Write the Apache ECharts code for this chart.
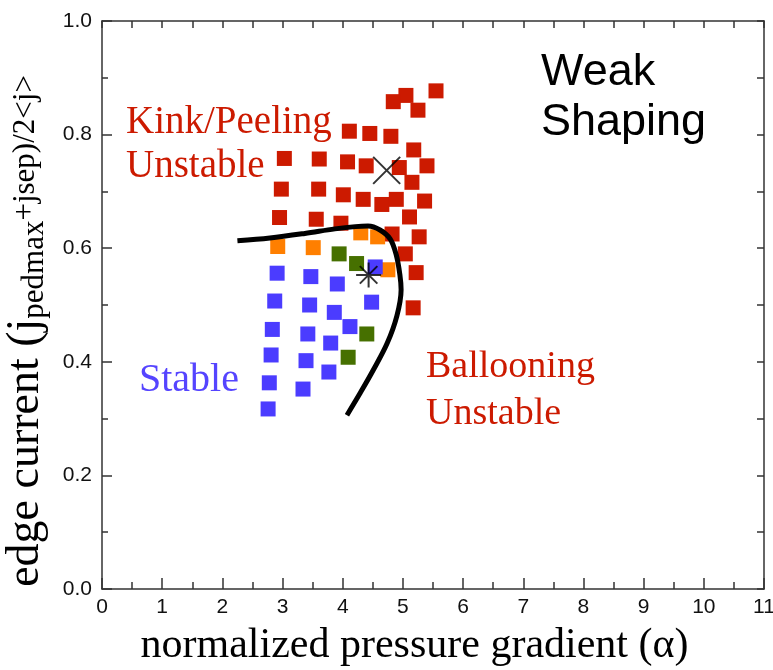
<!DOCTYPE html>
<html>
<head>
<meta charset="utf-8">
<title>Weak Shaping - edge stability</title>
<script src="https://cdn.jsdelivr.net/npm/echarts@6/dist/echarts.min.js"></script>
<style>
    html, body { margin: 0; padding: 0; background: #fff; }
    #chart { width: 773px; height: 670px; }
</style>
</head>
<body>
<div id="chart"></div>
<script>
// [alpha, edge current]
var kinkUnstable = [
    [5.55, 0.877], [5.05, 0.869], [4.84, 0.858], [5.25, 0.843],
    [4.11, 0.806], [4.45, 0.802], [4.80, 0.797],
    [3.03, 0.758], [3.61, 0.757], [4.08, 0.752], [4.39, 0.745], [4.94, 0.742], [5.18, 0.773], [5.40, 0.745],
    [5.15, 0.716],
    [2.98, 0.704], [3.60, 0.704], [4.01, 0.694], [4.34, 0.686], [4.65, 0.677], [4.89, 0.686], [5.36, 0.683],
    [2.95, 0.654], [3.56, 0.651], [3.97, 0.644], [4.82, 0.625], [5.11, 0.655], [5.27, 0.620],
    [5.04, 0.590], [5.22, 0.557], [5.17, 0.495]
];
var marginal = [
    [2.92, 0.603], [3.51, 0.601], [4.30, 0.627], [4.58, 0.620], [4.75, 0.562]
];
var balloonLimited = [
    [3.94, 0.590], [4.23, 0.573], [4.40, 0.449], [4.09, 0.408]
];
var stable = [
    [2.91, 0.556], [3.47, 0.550], [3.91, 0.537], [4.54, 0.567],
    [2.87, 0.507], [3.45, 0.500], [3.86, 0.487], [4.48, 0.505], [4.12, 0.462],
    [2.83, 0.457], [3.42, 0.449], [3.80, 0.433],
    [2.81, 0.412], [3.39, 0.402], [3.77, 0.382],
    [2.78, 0.363], [3.34, 0.352],
    [2.76, 0.317]
];
var boundary = [
    [2.25, 0.613], [2.79, 0.618], [3.37, 0.626], [3.87, 0.634], [4.21, 0.638], [4.42, 0.639],
    [4.62, 0.632], [4.79, 0.616], [4.89, 0.588], [4.95, 0.553], [4.97, 0.527], [4.90, 0.481],
    [4.74, 0.433], [4.51, 0.386], [4.29, 0.345], [4.07, 0.306]
];
var crossPoint = [[4.73, 0.737]];
var starPoint = [[4.43, 0.553]];

var xTicks = [0, 11, 1];       // min, max, interval
var yTicks = [0, 1.0, 0.2];

var serif = '"Liberation Serif", "DejaVu Serif", serif';
var sans = '"Liberation Sans", Arial, sans-serif';

var chart = echarts.init(document.getElementById('chart'));

function squares(data, color) {
    return {
        type: 'scatter',
        data: data,
        symbol: 'rect',
        symbolSize: 15,
        itemStyle: { color: color, opacity: 1 },
        silent: true
    };
}

var lineCol = '#333';

var option = {
    animation: false,
    grid: { left: 102, right: 9, top: 21, bottom: 81, containLabel: false, outerBoundsMode: 'none' },
    xAxis: [{
        type: 'value',
        min: xTicks[0], max: xTicks[1], interval: xTicks[2],
        position: 'bottom',
        name: 'normalized pressure gradient (\u03b1)',
        nameLocation: 'middle',
        nameGap: 36,
        nameTextStyle: { fontFamily: serif, fontSize: 42, color: '#000', padding: [0, 37, 0, 0] },
        axisLine: { onZero: false, lineStyle: { color: lineCol, width: 1.5 } },
        axisTick: { inside: true, length: 11, lineStyle: { color: lineCol, width: 1.5 } },
        minorTick: { show: true, splitNumber: 2, length: 7, lineStyle: { color: lineCol, width: 1.5 } },
        axisLabel: { fontFamily: sans, fontSize: 21, color: '#111', margin: 8 },
        splitLine: { show: false }
    }, {
        type: 'value',
        min: xTicks[0], max: xTicks[1], interval: 0.5,
        position: 'top',
        axisLine: { show: true, onZero: false, lineStyle: { color: lineCol, width: 1.5 } },
        axisTick: { show: true, inside: true, length: 7, lineStyle: { color: lineCol, width: 1.5 } },
        axisLabel: { show: false },
        splitLine: { show: false }
    }],
    yAxis: [{
        type: 'value',
        min: yTicks[0], max: yTicks[1], interval: yTicks[2],
        position: 'left',
        name: '{a|edge current (j}{b|pedmax}{c|+jsep)/2<j>}',
        nameLocation: 'middle',
        nameGap: 52,
        nameTextStyle: {
            fontFamily: serif, color: '#000',
            padding: [0, 52, 0, 0],
            rich: {
                a: { fontFamily: serif, fontSize: 46, color: '#000', lineHeight: 48 },
                b: { fontFamily: serif, fontSize: 31, color: '#000', verticalAlign: 'bottom', lineHeight: 48, padding: [12, 0, 0, 0] },
                c: { fontFamily: serif, fontSize: 31, color: '#000', lineHeight: 48 }
            }
        },
        axisLine: { onZero: false, lineStyle: { color: lineCol, width: 1.5 } },
        axisTick: { inside: true, length: 10, lineStyle: { color: lineCol, width: 1.5 } },
        minorTick: { show: true, splitNumber: 2, length: 6, lineStyle: { color: lineCol, width: 1.5 } },
        axisLabel: {
            fontFamily: sans, fontSize: 21, color: '#111', margin: 10,
            formatter: function (v) { return v.toFixed(1); }
        },
        splitLine: { show: false }
    }, {
        type: 'value',
        min: yTicks[0], max: yTicks[1], interval: 0.1,
        position: 'right',
        axisLine: { show: true, onZero: false, lineStyle: { color: lineCol, width: 1.5 } },
        axisTick: { show: true, inside: true, length: 7, lineStyle: { color: lineCol, width: 1.5 } },
        axisLabel: { show: false },
        splitLine: { show: false }
    }],
    series: [
        squares(kinkUnstable, '#cc1a00'),
        squares(marginal, '#ff7f00'),
        squares(balloonLimited, '#467000'),
        squares(stable, '#4b3cff'),
        {
            type: 'line',
            data: boundary,
            smooth: 0.35,
            showSymbol: false,
            lineStyle: { color: '#000', width: 5 },
            silent: true
        },
        {
            type: 'scatter',
            data: crossPoint,
            symbol: 'path://M0,0L10,10M10,0L0,10',
            symbolSize: 27,
            itemStyle: { color: 'none', borderColor: '#000', borderWidth: 2 },
            silent: true
        },
        {
            type: 'scatter',
            data: starPoint,
            symbol: 'path://M10,0L10,20M0,10L20,10M3,3L17,17M17,3L3,17',
            symbolSize: 25,
            itemStyle: { color: 'none', borderColor: '#000', borderWidth: 2 },
            silent: true
        }
    ],
    graphic: [
        { type: 'text', x: 541, y: 48, style: { text: 'Weak\nShaping', font: '45px ' + sans, fill: '#000', lineHeight: 50 } },
        { type: 'text', x: 126, y: 101, style: { text: 'Kink/Peeling\nUnstable', font: '39px ' + serif, fill: '#cc1a00', lineHeight: 44 } },
        { type: 'text', x: 139, y: 358, style: { text: 'Stable', font: '40px ' + serif, fill: '#5544ff', lineHeight: 44 } },
        { type: 'text', x: 426, y: 344, style: { text: 'Ballooning\nUnstable', font: '38px ' + serif, fill: '#cc1a00', lineHeight: 47 } }
    ]
};

chart.setOption(option);
</script>
</body>
</html>
